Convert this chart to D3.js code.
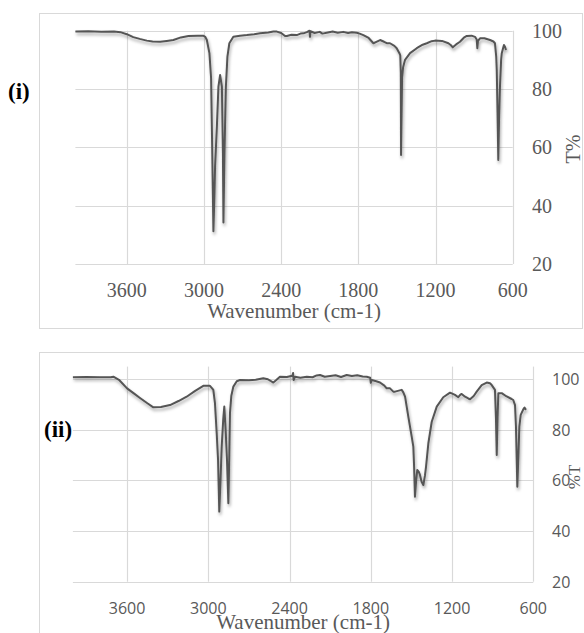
<!DOCTYPE html>
<html>
<head>
<meta charset="utf-8">
<script src="https://cdn.jsdelivr.net/npm/d3@7"></script>
<style>
  body { margin: 0; background: #fff; }
  svg { display: block; }
</style>
</head>
<body>
<svg id="chart" width="584" height="633"></svg>
<script>
// tick values, shared by both panels
const xTicks = [3600, 3000, 2400, 1800, 1200, 600];
const yTicks = [20, 40, 60, 80, 100];

// spectrum (i) : wavenumber (cm-1) / transmittance (%)
const wnI = [4000, 3900, 3800, 3700, 3650, 3600, 3550, 3500, 3445, 3400, 3341, 3290, 3238, 3180, 3121, 3050, 3007, 2990, 2978, 2958,
  2945, 2937, 2927, 2920, 2914, 2900, 2888, 2875, 2861, 2853, 2849, 2841, 2830, 2818, 2803, 2772, 2720, 2667, 2610, 2564,
  2500, 2461, 2434, 2400, 2370, 2356, 2320, 2279, 2250, 2227, 2200, 2180, 2176, 2172, 2140, 2100, 2080, 2046, 2000, 1960,
  1917, 1880, 1850, 1812, 1790, 1761, 1720, 1683, 1660, 1631, 1600, 1579, 1554, 1520, 1502, 1481, 1474, 1470, 1468, 1465,
  1460, 1452, 1437, 1398, 1346, 1300, 1268, 1230, 1204, 1150, 1100, 1080, 1066, 1040, 1010, 980, 957, 920, 893, 880,
  875, 870, 854, 820, 776, 750, 738, 728, 724, 718, 712, 706, 699, 690, 685, 675, 668, 660, 652];
const tI = [99.7, 99.8, 99.6, 99.7, 99.5, 98.8, 97.8, 97.2, 96.6, 96.3, 96.2, 96.5, 96.8, 97.7, 98.2, 98.3, 98.3, 97.9, 96.8, 92.3,
  83.7, 61.4, 31.2, 42, 53.4, 67.1, 80.8, 84.8, 80.8, 58, 34.2, 58, 80.8, 91.1, 95.7, 97.9, 98.3, 98.5, 98.8, 99.1,
  99.4, 99.7, 99.7, 99.2, 98.2, 98.2, 98.6, 98.5, 99.0, 99.1, 99.5, 100, 97.9, 99.8, 99.2, 99.6, 99.0, 99.3, 99.7, 99.3,
  99.6, 99.2, 99.5, 99.3, 99.0, 98.5, 97.5, 95.7, 96.2, 96.8, 96.2, 95.7, 95.7, 94.8, 94.0, 92.3, 91.5, 85.4, 57.4, 68,
  84, 87.5, 90, 92.3, 94, 95.2, 95.7, 96.4, 96.6, 96.5, 95.7, 95.0, 94.3, 95.3, 96.2, 97.6, 98.2, 98.3, 97.9, 97,
  94, 96.5, 97.4, 97.4, 96.8, 96.3, 95.7, 91, 86.5, 72, 55.7, 70, 80.8, 90, 92.3, 94, 95.1, 94.5, 93.4];

// spectrum (ii)
const wnII = [4000, 3900, 3800, 3720, 3701, 3660, 3600, 3550, 3502, 3450, 3406, 3350, 3283, 3220, 3160, 3100, 3037, 2988, 2975, 2963,
  2951, 2938, 2928, 2919, 2910, 2901, 2890, 2882, 2872, 2862, 2852, 2845, 2840, 2830, 2815, 2790, 2766, 2700, 2650, 2594,
  2560, 2544, 2520, 2500, 2471, 2420, 2380, 2374, 2370, 2360, 2320, 2273, 2230, 2200, 2175, 2140, 2100, 2060, 2020, 1978,
  1940, 1900, 1860, 1830, 1805, 1800, 1793, 1760, 1732, 1700, 1683, 1658, 1634, 1621, 1600, 1572, 1560, 1547, 1523, 1498,
  1486, 1480, 1474, 1465, 1457, 1447, 1437, 1425, 1412, 1400, 1392, 1375, 1350, 1313, 1265, 1215, 1178, 1154, 1140, 1129,
  1104, 1080, 1067, 1040, 1018, 981, 944, 920, 907, 883, 876, 870, 864, 858, 833, 800, 760, 748, 735, 728,
  718, 710, 703, 693, 674, 665, 654];
const tII = [100.8, 100.9, 100.8, 100.8, 101, 99.8, 96.4, 94.4, 92.5, 90.5, 88.9, 89.0, 89.8, 91.4, 93.1, 95.3, 97.4, 97.4, 96.6, 95.8,
  90.6, 78.7, 68.1, 47.7, 60, 73.4, 84, 89.2, 80, 68.1, 51, 70, 86.6, 93.5, 97.1, 99.2, 99.7, 99.6, 99.8, 100.4,
  100.0, 99.5, 98.7, 99.6, 101, 100.9, 101.4, 102.5, 99.7, 101.0, 100.6, 101, 100.8, 101.5, 101.7, 101.0, 101.3, 101.6, 100.9, 101.7,
  101.3, 101.6, 101.1, 101, 100.6, 98.6, 99.7, 99.2, 98.7, 97.5, 96.4, 96.4, 95.1, 95.1, 95.4, 95.8, 94.8, 93.1, 85.2, 77.3,
  73.4, 65, 53.6, 60, 64.1, 63.6, 62.2, 59.5, 58.2, 62, 65.5, 74.7, 83.2, 89.2, 92.9, 94.7, 93.8, 92.9, 93.8, 94.2,
  93.1, 92.4, 92.1, 93.4, 95.1, 97.7, 98.7, 98.4, 97.7, 95.8, 85, 70.1, 85, 94.5, 94.5, 93.3, 92.2, 91.8, 89.8, 81.3,
  57.5, 70, 81.3, 85.9, 88.1, 88.8, 87.9];

const svg = d3.select("#chart");
const gridColor = "#d9d9d9";
const textColor = "#595959";
const serif = "'Liberation Serif', 'Times New Roman', serif";
const sans = "'Open Sans', 'Noto Sans', sans-serif";

// soft shadow under the curves, like the office chart effect
const defs = svg.append("defs");
const f = defs.append("filter").attr("id", "shadow")
  .attr("x", "-5%").attr("y", "-5%").attr("width", "110%").attr("height", "120%");
f.append("feDropShadow").attr("dx", 1).attr("dy", 2.5).attr("stdDeviation", 1.6)
  .attr("flood-color", "#000").attr("flood-opacity", 0.35);

function drawPanel(p) {
  const g = svg.append("g");

  // outer chart border
  g.append("rect")
    .attr("x", p.box[0]).attr("y", p.box[1])
    .attr("width", p.box[2]).attr("height", p.box[3])
    .attr("fill", "none").attr("stroke", gridColor).attr("stroke-width", 1);

  const x = d3.scaleLinear().domain([4000, 600]).range(p.xr);
  const y = d3.scaleLinear().domain(p.ydom).range(p.yr);

  // horizontal grid
  g.append("g").selectAll("line").data(yTicks).enter().append("line")
    .attr("x1", p.xr[0]).attr("x2", p.xr[1])
    .attr("y1", d => Math.round(y(d)) + 0.5).attr("y2", d => Math.round(y(d)) + 0.5)
    .attr("stroke", gridColor).attr("stroke-width", 1.2);

  // vertical grid
  g.append("g").selectAll("line").data(xTicks).enter().append("line")
    .attr("x1", d => Math.round(x(d)) + 0.5).attr("x2", d => Math.round(x(d)) + 0.5)
    .attr("y1", y(p.ydom[1])).attr("y2", y(20))
    .attr("stroke", gridColor).attr("stroke-width", 1.2);

  // spectrum
  const line = d3.line().x(d => x(d[0])).y(d => y(d[1]));
  g.append("path")
    .datum(d3.zip(p.wn, p.t))
    .attr("d", line)
    .attr("fill", "none")
    .attr("stroke", "#555")
    .attr("stroke-width", 2)
    .attr("stroke-linejoin", "round")
    .attr("filter", "url(#shadow)");

  // x tick labels
  g.append("g").selectAll("text").data(xTicks).enter().append("text")
    .attr("x", d => x(d)).attr("y", p.xLabelY)
    .attr("text-anchor", "middle")
    .style("font-family", p.tickFont).style("font-size", p.tickSize + "px")
    .attr("fill", textColor)
    .text(d => d);

  // y tick labels (right side)
  g.append("g").selectAll("text").data(yTicks).enter().append("text")
    .attr("x", p.yLabelX).attr("y", d => y(d))
    .attr("dominant-baseline", "central")
    .style("font-family", p.tickFont).style("font-size", p.tickSize + "px")
    .attr("fill", textColor)
    .text(d => d);

  // axis titles
  g.append("text")
    .attr("x", (p.xr[0] + p.xr[1]) / 2).attr("y", p.titleY)
    .attr("text-anchor", "middle")
    .style("font-family", serif).style("font-size", "21px")
    .attr("fill", textColor)
    .text("Wavenumber (cm-1)");

  g.append("text")
    .attr("transform", `translate(${p.yTitle[0]},${p.yTitle[1]}) rotate(-90)`)
    .attr("text-anchor", "middle").attr("dominant-baseline", "central")
    .style("font-family", serif).style("font-size", p.yTitle[2] + "px")
    .attr("fill", textColor)
    .text(p.yTitleText);

  // panel tag
  svg.append("text")
    .attr("x", p.tag[0]).attr("y", p.tag[1])
    .style("font-family", serif).style("font-size", "23px").style("font-weight", "bold")
    .attr("fill", "#000")
    .text(p.tagText);
}

drawPanel({
  box: [39.5, 13.5, 543, 315],
  xr: [75.4, 512.7], yr: [264, 30.7], ydom: [20, 100],
  wn: wnI, t: tI,
  tickFont: serif, tickSize: 20,
  xLabelY: 297, yLabelX: 532, titleY: 318,
  yTitle: [573, 149, 20], yTitleText: "T%",
  tag: [8, 99], tagText: "(i)"
});

drawPanel({
  box: [39.5, 352.5, 600, 400],
  xr: [72.9, 533.3], yr: [581.7, 366.6], ydom: [20, 105],
  wn: wnII, t: tII,
  tickFont: sans, tickSize: 16,
  xLabelY: 614, yLabelX: 552, titleY: 629,
  yTitle: [574, 477, 17], yTitleText: "%T",
  tag: [44, 437], tagText: "(ii)"
});
</script>
</body>
</html>
